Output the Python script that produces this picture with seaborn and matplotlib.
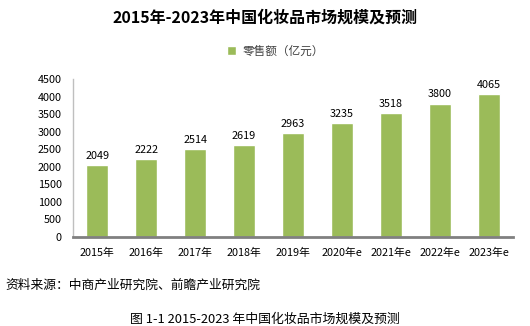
import matplotlib
matplotlib.use("Agg")
import matplotlib.pyplot as plt
import seaborn as sns
import pandas as pd

years = ["2015年", "2016年", "2017年", "2018年", "2019年",
         "2020年e", "2021年e", "2022年e", "2023年e"]
sales = [2049, 2222, 2514, 2619, 2963, 3235, 3518, 3800, 4065]
yticks = [0, 500, 1000, 1500, 2000, 2500, 3000, 3500, 4000, 4500]
series_name = "零售额（亿元）"
title = "2015年-2023年中国化妆品市场规模及预测"
source = "资料来源：中商产业研究院、前瞻产业研究院"
caption = "图 1-1 2015-2023 年中国化妆品市场规模及预测"

sns.set_theme(style="white")
plt.rcParams["font.family"] = ["Noto Sans CJK SC", "DejaVu Sans"]

df = pd.DataFrame({"year": years, "sales": sales})

fig = plt.figure(figsize=(5.3, 3.26), dpi=100)
ax = fig.add_axes([73 / 530, 1 - 237 / 326, 440 / 530, (237 - 79) / 326])

bar_color = "#9BBB59"
sns.barplot(data=df, x="year", y="sales", color=bar_color, width=0.45,
            saturation=1, ax=ax, label=series_name)

ax.set_xlim(-0.5, len(years) - 0.5)
ax.set_ylim(0, 4500)
ax.set_yticks(yticks)
ax.set_yticklabels([str(t) for t in yticks], fontsize=7.8, color="#000000")
ax.tick_params(axis="x", labelsize=7.8, colors="#000000", pad=8, length=0)
ax.tick_params(axis="y", pad=8, length=0)
ax.set_xlabel("")
ax.set_ylabel("")

for s in ["top", "right"]:
    ax.spines[s].set_visible(False)
ax.spines["left"].set_color("#BFBFBF")
ax.spines["left"].set_linewidth(1.0)
ax.spines["bottom"].set_color("#808080")
ax.spines["bottom"].set_linewidth(2.0)

for i, v in enumerate(sales):
    ax.text(i, v + 120, str(v), ha="center", va="bottom", fontsize=7.8, color="#000000")

leg = ax.legend(loc="lower center", bbox_to_anchor=(0.46, 1.07), frameon=False,
                fontsize=8.4, handlelength=0.8, handleheight=0.8, handletextpad=0.5)
for t in leg.get_texts():
    t.set_color("#404040")

fig.text(0.5, 1 - 18 / 326, title, ha="center", va="center",
         fontsize=11.5, fontweight="bold", color="#000000")
fig.text(5 / 530, 1 - 285 / 326, source, ha="left", va="center",
         fontsize=9.2, color="#000000")
fig.text(0.5, 1 - 319 / 326, caption, ha="center", va="center",
         fontsize=9.3, color="#000000")

fig.savefig("out.png", dpi=100, facecolor="white")
